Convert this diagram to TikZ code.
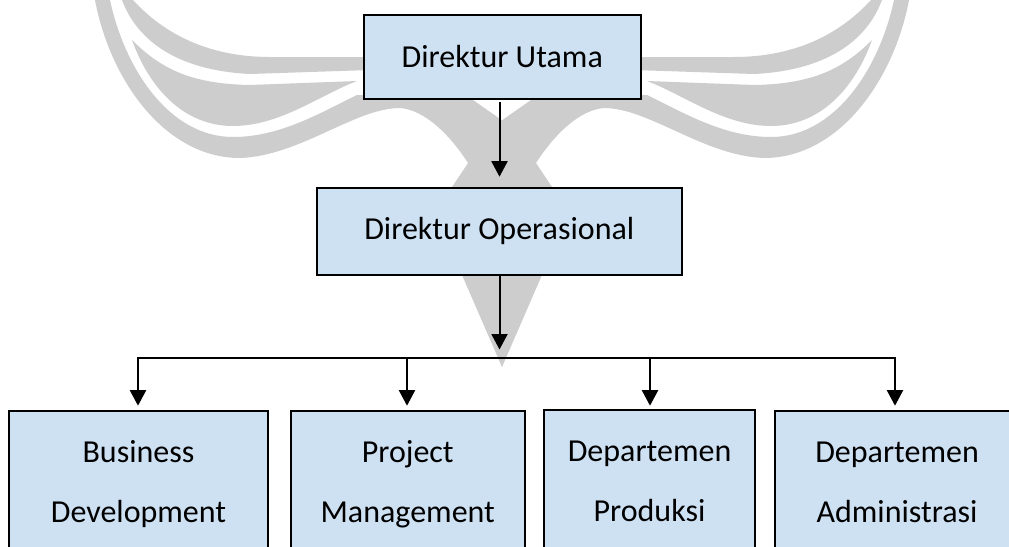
\documentclass[tikz,border=0pt]{standalone}
\usepackage{fontspec}
\setmainfont{Carlito}
\usetikzlibrary{arrows.meta}
\definecolor{boxfill}{HTML}{CEE1F3}
\definecolor{mark}{HTML}{CDCDCD}
\tikzset{
  x=1pt,y=-1pt,
  orgbox/.style={draw=black,line width=2pt,fill=boxfill,anchor=north west,inner sep=0pt,outer sep=0pt,align=center,
    font=\fontsize{32}{60}\selectfont},
  arr/.style={draw=black,line width=2pt,-{Triangle[length=15.5pt,width=16pt]}},
  bus/.style={draw=black,line width=2pt,line cap=rect},
  markfill/.style={fill=mark,draw=none}
}
\newcommand{\markhalf}{%
  \fill[markfill] (95,0) .. controls (110,80) and (165,158) .. (240,158)
     .. controls (300,156) and (355,108) .. (400,108)
     .. controls (425,110) and (450,135) .. (468,163)
     -- (452,187) -- (462,275) -- (502,367) -- (503,121)
     -- (473,100) -- (357,95)
     .. controls (320,113) and (280,137) .. (233,137)
     .. controls (170,137) and (125,70) .. (110,0) -- cycle;
  \fill[markfill] (132,40) .. controls (160,68) and (190,84) .. (250,85)
     -- (357,81)
     .. controls (320,95) and (280,126) .. (233,126)
     .. controls (185,126) and (150,90) .. (132,40) -- cycle;
  \fill[markfill] (122,0) .. controls (135,35) and (170,70) .. (250,74)
     -- (370,70) -- (370,57) -- (270,57)
     .. controls (210,57) and (165,35) .. (133,0) -- cycle;
}
\begin{document}
\begin{tikzpicture}
\useasboundingbox (0,0) rectangle (1009,546);
\clip (0,0) rectangle (1009,546);
\fill[white] (0,0) rectangle (1009,546);
\markhalf
\begin{scope}[shift={(1004,0)},x=-1pt]
\markhalf
\end{scope}
\node[orgbox,minimum width=277.5pt,minimum height=84pt] (ut) at (363.5,15) {Direktur Utama};
\node[orgbox,minimum width=364.5pt,minimum height=87pt] (op) at (317,187.5) {Direktur Operasional};
\node[orgbox,minimum width=259pt,minimum height=146pt] (bd) at (9,411) {Business\\Development};
\node[orgbox,minimum width=233.5pt,minimum height=146pt] (pm) at (291,411) {Project\\Management};
\node[orgbox,minimum width=211pt,minimum height=143pt] (dp) at (544,410) {Departemen\\Produksi};
\node[orgbox,minimum width=244pt,minimum height=142pt] (da) at (775,411) {Departemen\\Administrasi};
\coordinate (hub) at (499.5,349.5);
\coordinate (busL) at (138,357.5);
\coordinate (busP) at (407,357.5);
\coordinate (busD) at (650,357.5);
\coordinate (busR) at (895,357.5);
\coordinate (tipU) at (499.5,176.7);
\draw[bus] (busL) -- (busR);
\draw[arr] (ut.south -| tipU) ++(0,3) -- (tipU);
\draw[arr] (op.south -| hub) -- (hub);
\draw[arr] (busL) -- (busL |- 0,405.7);
\draw[arr] (busP) -- (busP |- 0,405.7);
\draw[arr] (busD) -- (busD |- 0,405.7);
\draw[arr] (busR) -- (busR |- 0,405.7);
\end{tikzpicture}
\end{document}
